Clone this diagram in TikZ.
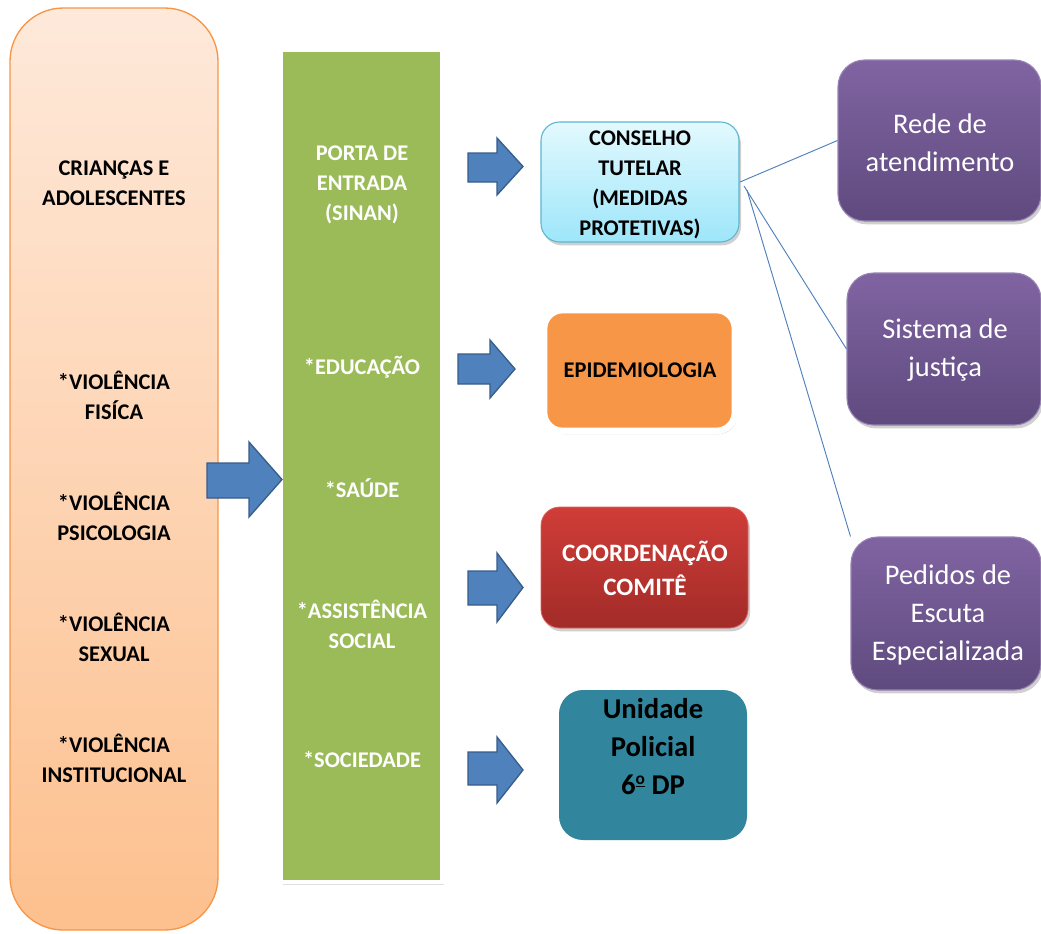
\documentclass[tikz,border=0pt]{standalone}
\usepackage{fontspec}
\setmainfont{Carlito}
\usetikzlibrary{fit,shadows}
\definecolor{orbord}{HTML}{F79646}
\definecolor{ortop}{HTML}{FEE9DA}
\definecolor{orbot}{HTML}{FDC08E}
\definecolor{grn}{HTML}{9BBB59}
\definecolor{cytop}{HTML}{E3F9FE}
\definecolor{cybot}{HTML}{9DE6FA}
\definecolor{cybord}{HTML}{5BB5D0}
\definecolor{epi}{HTML}{F79646}
\definecolor{rdtop}{HTML}{D03D38}
\definecolor{rdbot}{HTML}{A22B28}
\definecolor{teal}{HTML}{31859C}
\definecolor{pptop}{HTML}{8064A2}
\definecolor{ppbot}{HTML}{5F4A7E}
\definecolor{arrfill}{HTML}{4F81BD}
\definecolor{arrbord}{HTML}{385D8A}
\tikzset{
  x=0.75pt, y=-0.75pt,
  shd/.style={drop shadow={shadow xshift=1.5pt, shadow yshift=-2.5pt, opacity=0.3, fill=black!60}},
  boxfit/.style={inner sep=0pt, rounded corners=14pt},
  purplebox/.style={boxfit, top color=pptop, bottom color=ppbot, draw=pptop!80!white, line width=0.8pt, shd, rounded corners=20pt},
  blackbold/.style={font=\fontsize{16.8}{22.5}\selectfont\bfseries, align=center, text=black},
  whitebold/.style={font=\fontsize{16.8}{22.5}\selectfont\bfseries, align=center, text=white},
  purpletext/.style={font=\fontsize{21.3}{28.5}\selectfont, align=center, text=white},
  link/.style={draw=arrfill, line width=0.7pt},
  barrow/.style={fill=arrfill, draw=arrbord, line width=1pt, line join=miter}
}
% block arrow: x0, x1 (tip), xh (head start), yt, yb (head top/bottom), bt, bb (body top/bottom)
\newcommand\blockarr[7]{%
  \draw[barrow] (#1,#6) -- (#3,#6) -- (#3,#4) -- (#2,{(#4+#5)/2}) -- (#3,#5) -- (#3,#7) -- (#1,#7) -- cycle;}
\newcommand\ordo{\raisebox{0.75ex}{\fontsize{13}{13}\selectfont\underline{o}}}
\begin{document}
\begin{tikzpicture}
\useasboundingbox[fill=white] (0,0) rectangle (1041,933);

% left orange column
\node[fit={(10,8) (218,930)}, inner sep=0pt, rounded corners=40pt, top color=ortop, bottom color=orbot, draw=orbord, line width=1pt] (kids) {};
\node[blackbold] (t1) at (114,183) {CRIANÇAS E\\ADOLESCENTES};
\node[blackbold] (t2) at (114,395) {*VIOLÊNCIA\\FISÍCA};
\node[blackbold] (t3) at (114,516) {*VIOLÊNCIA\\PSICOLOGIA};
\node[blackbold] (t4) at (114,637) {*VIOLÊNCIA\\SEXUAL};
\node[blackbold] (t5) at (114,758) {*VIOLÊNCIA\\INSTITUCIONAL};

% green column
\node[fit={(281,50) (442,882)}, inner sep=0pt, fill=grn, draw=white, line width=3.5pt, drop shadow={shadow xshift=1.5pt, shadow yshift=-2pt, opacity=0.25, fill=black!50}] (entry) {};
\node[whitebold] (g1) at (362,185) {PORTA DE\\ENTRADA\\(SINAN)};
\node[whitebold] (g2) at (362,367) {*EDUCAÇÃO};
\node[whitebold] (g3) at (362,488) {*SAÚDE};
\node[whitebold] (g4) at (362,624) {*ASSISTÊNCIA\\SOCIAL};
\node[whitebold] (g5) at (362,760) {*SOCIEDADE};

% big arrow
\blockarr{207}{282}{249}{442}{517}{463}{498}

% arrows to middle boxes
\blockarr{468}{523}{497}{138}{195}{153}{182}
\blockarr{458}{515}{490}{340}{398}{354}{384}
\blockarr{468}{523}{497}{553}{622}{571}{605}
\blockarr{468}{523}{497}{737}{803}{752}{785}

% middle boxes
\node[fit={(541,122) (739,242)}, boxfit, top color=cytop, bottom color=cybot, draw=cybord, line width=0.8pt, shd] (ct) {};
\node[blackbold] (ctt) at (640,185) {CONSELHO\\TUTELAR\\(MEDIDAS\\PROTETIVAS)};

\node[fit={(544,310) (735,431)}, boxfit, fill=epi, draw=white, line width=5pt, drop shadow={shadow xshift=1.5pt, shadow yshift=-2.5pt, opacity=0.25, fill=black!50}] (epi) {};
\node[blackbold] (epit) at (640,370) {EPIDEMIOLOGIA};

\node[fit={(541,507) (748,628)}, boxfit, top color=rdtop, bottom color=rdbot, draw=rdtop!80!white, line width=0.6pt, shd] (coord) {};
\node[whitebold, font=\fontsize{18.8}{25.5}\selectfont\bfseries] (coordt) at (645,568) {COORDENAÇÃO\\COMITÊ};

\node[fit={(559,690) (747,840)}, boxfit, rounded corners=18pt, fill=teal] (pol) {};
\node[blackbold, font=\fontsize{21.5}{28.5}\selectfont\bfseries] (polt) at (653,747) {Unidade\\Policial\\6\ordo{} DP};

% right purple boxes
\node[fit={(838,60) (1041,221)}, purplebox] (rede) {};
\node[purpletext] (redet) at (940,143) {Rede de\\atendimento};
\node[fit={(847,273) (1041,425)}, purplebox] (just) {};
\node[purpletext] (justt) at (945,350) {Sistema de\\justiça};
\node[fit={(851,537) (1041,690)}, purplebox] (ped) {};
\node[purpletext] (pedt) at (948,615) {Pedidos de\\Escuta\\Especializada};

% connectors
\coordinate (c1) at (740,182);
\coordinate (c2) at (744,186);
\coordinate (c3) at (747,190);
\draw[link] (c1) -- (rede.west);
\draw[link] (c2) -- (just.west);
\draw[link] (c3) -- (ped.north west);
\end{tikzpicture}
\end{document}
